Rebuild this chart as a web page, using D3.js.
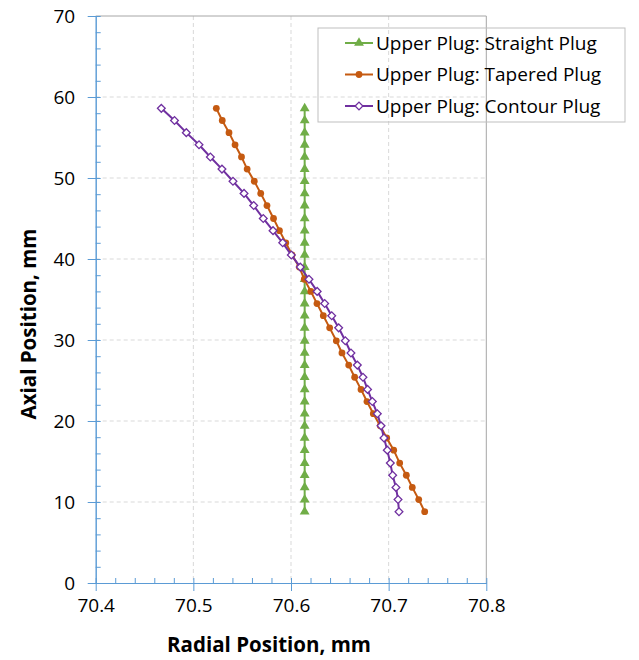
<!DOCTYPE html>
<html>
<head>
<meta charset="utf-8">
<script src="https://cdn.jsdelivr.net/npm/d3@7"></script>
<style>
  body { margin: 0; background: #fff; }
  svg { display: block; }
  text { font-family: "Open Sans", "Liberation Sans", sans-serif; fill: #000; }
</style>
</head>
<body>
<svg id="chart" width="639" height="660"></svg>
<script>
// Axial positions of the measurement stations (mm)
const axialPos = [8.8, 10.3, 11.8, 13.3, 14.8, 16.4, 17.9, 19.4, 20.9, 22.4, 23.9, 25.4,
  26.9, 28.4, 29.9, 31.5, 33.0, 34.5, 36.0, 37.5, 39.0, 40.5, 42.0, 43.5, 45.0, 46.6,
  48.1, 49.6, 51.1, 52.6, 54.1, 55.6, 57.1, 58.6];

// Radial positions (mm), listed from the lowest axial station upward
const straightPlug = [70.614, 70.614, 70.614, 70.614, 70.614, 70.614, 70.614, 70.614,
  70.614, 70.614, 70.614, 70.614, 70.614, 70.614, 70.614, 70.614, 70.614, 70.614,
  70.614, 70.614, 70.614, 70.614, 70.614, 70.614, 70.614, 70.614, 70.614, 70.614,
  70.614, 70.614, 70.614, 70.614, 70.614, 70.614];

const taperedPlug = [70.7369, 70.7308, 70.7242, 70.7181, 70.7113, 70.7052, 70.6980,
  70.6914, 70.6843, 70.6778, 70.6717, 70.6652, 70.6591, 70.6522, 70.6464, 70.6396,
  70.6331, 70.6266, 70.6203, 70.6136, 70.6085, 70.6010, 70.5947, 70.5882, 70.5821,
  70.5754, 70.5690, 70.5624, 70.5551, 70.5493, 70.5427, 70.5365, 70.5296, 70.5235];

const contourPlug = [70.7106, 70.7096, 70.7075, 70.7041, 70.7017, 70.6986, 70.6952,
  70.6922, 70.6884, 70.6833, 70.6784, 70.6737, 70.6679, 70.6614, 70.6556, 70.6488,
  70.6417, 70.6345, 70.6268, 70.6184, 70.6095, 70.6003, 70.5915, 70.5816, 70.5716,
  70.5618, 70.5519, 70.5406, 70.5293, 70.5174, 70.5058, 70.4928, 70.4807, 70.4672];

const seriesNames = ["Upper Plug: Straight Plug", "Upper Plug: Tapered Plug", "Upper Plug: Contour Plug"];
const seriesColors = ["#70AD47", "#C55A11", "#7030A0"];
const seriesMarkers = ["triangle", "circle", "diamond"];

const xTicks = [70.4, 70.5, 70.6, 70.7, 70.8];
const xMinorTicks = [70.42, 70.44, 70.46, 70.48, 70.52, 70.54, 70.56, 70.58,
  70.62, 70.64, 70.66, 70.68, 70.72, 70.74, 70.76, 70.78];
const yTicks = [0, 10, 20, 30, 40, 50, 60, 70];
const yMinorTicks = [2, 4, 6, 8, 12, 14, 16, 18, 22, 24, 26, 28, 32, 34, 36, 38,
  42, 44, 46, 48, 52, 54, 56, 58, 62, 64, 66, 68];

const xTitle = "Radial Position, mm";
const yTitle = "Axial Position, mm";

const svg = d3.select("#chart");
const plot = { left: 95.7, right: 486.3, top: 16, bottom: 583 };

const x = d3.scaleLinear().domain([70.4, 70.8]).range([plot.left, plot.right]);
const y = d3.scaleLinear().domain([0, 70]).range([plot.bottom, plot.top]);

const axisBlue = "#5B9BD5";
const tickFont = 19;

// dashed major gridlines
const grid = svg.append("g").attr("stroke", "#D9D9D9").attr("stroke-width", 1)
  .attr("stroke-dasharray", "4,3");
grid.selectAll("line.gx").data(xTicks.slice(1, -1)).join("line")
  .attr("x1", d => x(d)).attr("x2", d => x(d))
  .attr("y1", plot.top).attr("y2", plot.bottom);
grid.selectAll("line.gy").data(yTicks.slice(1, -1)).join("line")
  .attr("x1", plot.left).attr("x2", plot.right)
  .attr("y1", d => y(d)).attr("y2", d => y(d));

// top and right plot border
svg.append("path")
  .attr("d", `M${plot.left},${plot.top}H${plot.right}V${plot.bottom}`)
  .attr("fill", "none").attr("stroke", "#A6A6A6").attr("stroke-width", 1);

// y axis: minor ticks inward, major ticks crossing the axis
const yMinor = svg.append("g").attr("transform", `translate(${plot.left},0)`)
  .call(d3.axisLeft(y).tickValues(yMinorTicks).tickSizeInner(-5).tickSizeOuter(0).tickFormat(""));
const yMajor = svg.append("g").attr("transform", `translate(${plot.left},0)`)
  .call(d3.axisLeft(y).tickValues(yTicks).tickSizeInner(8).tickSizeOuter(0).tickPadding(12.5)
    .tickFormat(d3.format("d")));
yMajor.selectAll(".tick line").attr("x1", 5);

// x axis
const xMinor = svg.append("g").attr("transform", `translate(0,${plot.bottom})`)
  .call(d3.axisBottom(x).tickValues(xMinorTicks).tickSizeInner(-5).tickSizeOuter(0).tickFormat(""));
const xMajor = svg.append("g").attr("transform", `translate(0,${plot.bottom})`)
  .call(d3.axisBottom(x).tickValues(xTicks).tickSizeInner(8).tickSizeOuter(0).tickPadding(7.5)
    .tickFormat(d3.format(".1f")));
xMajor.selectAll(".tick line").attr("y1", -5);

[yMinor, yMajor, xMinor, xMajor].forEach(g => {
  g.select(".domain").attr("stroke", axisBlue).attr("stroke-width", 1);
  g.selectAll(".tick line").attr("stroke", axisBlue).attr("stroke-width", 1);
  g.selectAll(".tick text").attr("font-size", tickFont)
    .attr("font-family", "'Open Sans', 'Liberation Sans', sans-serif").attr("fill", "#000");
});

// axis titles
svg.append("text").attr("x", 269).attr("y", 651.5).attr("text-anchor", "middle")
  .attr("font-size", 20.5).attr("font-weight", "bold").text(xTitle);
svg.append("text").attr("transform", "translate(36,324) rotate(-90)").attr("text-anchor", "middle")
  .attr("font-size", 20.5).attr("font-weight", "bold").text(yTitle);

// marker drawing
function drawMarker(sel, kind, color) {
  if (kind === "triangle") {
    sel.append("path").attr("d", d3.symbol(d3.symbolTriangle, 42)())
      .attr("fill", color).attr("stroke", "none");
  } else if (kind === "circle") {
    sel.append("circle").attr("r", 3.4).attr("fill", color).attr("stroke", "none");
  } else {
    sel.append("path").attr("d", d3.symbol(d3.symbolSquare, 30)())
      .attr("transform", "rotate(45)")
      .attr("fill", "#fff").attr("stroke", color).attr("stroke-width", 1.3);
  }
}

const seriesValues = [straightPlug, taperedPlug, contourPlug];
const line = d3.line().x(d => x(d[0])).y(d => y(d[1]));

seriesValues.forEach((vals, i) => {
  const pts = vals.map((v, k) => [v, axialPos[k]]);
  const g = svg.append("g");
  g.append("path").datum(pts).attr("d", line)
    .attr("fill", "none").attr("stroke", seriesColors[i]).attr("stroke-width", 2);
  g.selectAll("g.m").data(pts).join("g")
    .attr("transform", d => `translate(${x(d[0])},${y(d[1])})`)
    .each(function () { drawMarker(d3.select(this), seriesMarkers[i], seriesColors[i]); });
});

// legend
const legend = svg.append("g");
legend.append("rect").attr("x", 318).attr("y", 28).attr("width", 307).attr("height", 94)
  .attr("fill", "none").attr("stroke", "#BFBFBF").attr("stroke-width", 1);
const rowY = [43, 74.5, 106];
seriesNames.forEach((name, i) => {
  const row = legend.append("g").attr("transform", `translate(0,${rowY[i]})`);
  row.append("line").attr("x1", 345).attr("x2", 373).attr("y1", 0).attr("y2", 0)
    .attr("stroke", seriesColors[i]).attr("stroke-width", 2);
  drawMarker(row.append("g").attr("transform", "translate(359,0)"), seriesMarkers[i], seriesColors[i]);
  row.append("text").attr("x", 376).attr("y", 0).attr("dy", "0.35em")
    .attr("font-size", 19).text(name);
});
</script>
</body>
</html>
